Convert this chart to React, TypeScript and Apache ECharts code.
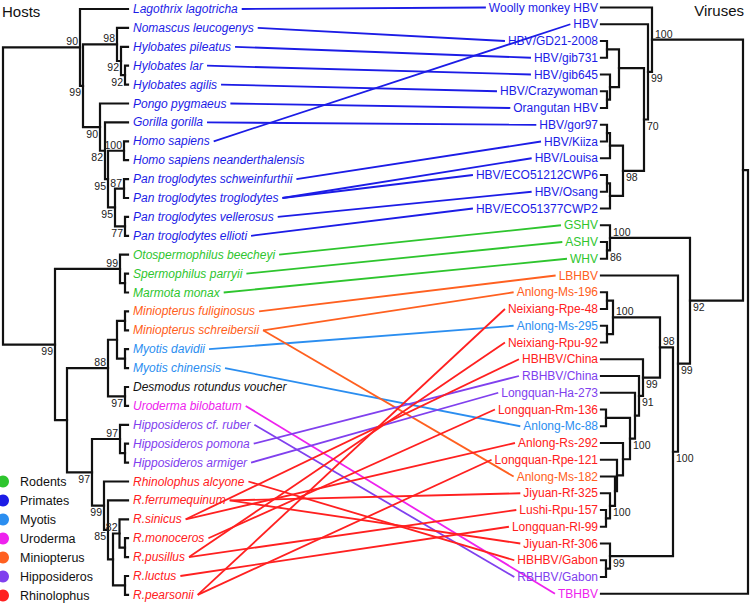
import React, { useEffect, useRef } from "react";
import * as echarts from "echarts";

// ---------- DATA ----------
// Host phylogeny (Newick: support values on internal nodes, branch lengths after ':')
const hostTree =
  "((Lagothrix lagotricha,((Nomascus leucogenys,(Hylobates pileatus,(Hylobates lar,Hylobates agilis)92:4)92:4)98:34,(Pongo pygmaeus,(Gorilla gorilla,((Homo sapiens,Homo sapiens neanderthalensis)100:16,((Pan troglodytes schweinfurthii,Pan troglodytes troglodytes)87:9,(Pan troglodytes vellerosus,Pan troglodytes ellioti)77:10)95:7)95:3)82:5)90:17)99:3)90:77,((Otospermophilus beecheyi,(Spermophilus parryii,Marmota monax):5)99:65,((((Miniopterus fuliginosus,Miniopterus schreibersii):8,(Myotis davidii,Myotis chinensis):8):9,(Desmodus rotundus voucher,Uroderma bilobatum)97:17)88:41,((Hipposideros cf. ruber,(Hipposideros pomona,Hipposideros armiger):5)97:28,(Rhinolophus alcyone,(R.ferrumequinum,((R.sinicus,(R.monoceros,R.pusillus):5.5)82:6.5,(R.luctus,R.pearsonii):12):5)85:4)99:12)97:25):12)99:52);";

// Virus phylogeny
const virusTree =
  "(((Woolly monkey HBV,(HBV,(((HBV/GD21-2008,HBV/gib731):12,(HBV/gib645,(HBV/Crazywoman,Orangutan HBV):3):9):25,(((HBV/gor97,HBV/Kiiza):3,HBV/Louisa):13,((HBV/ECO51212CWP6,HBV/Osang):3,HBV/ECO51377CWP2):13)98:21)70:4)99:4)100:91,((GSHV,(ASHV,WHV)86:3)100:80,(LBHBV,((((Anlong-Ms-196,Neixiang-Rpe-48):6,(Anlong-Ms-295,Neixiang-Rpu-92):6)100:47,(HBHBV/China,(RBHBV/China,(Longquan-Ha-273,((Longquan-Rm-136,Anlong-Mc-88):24,(Anlong-Rs-292,(Longquan-Rpe-121,(Anlong-Ms-182,(Jiyuan-Rf-325,(Lushi-Rpu-157,Longquan-Rl-99):4)100:5):2):6):7)100:5):4)91:4)99:17)98:13,(Jiyuan-Rf-306,(HBHBV/Gabon,RBHBV/Gabon):4)99:63)100:5)99:12)92:53):5,TBHBV);";

const groupNames = ["Rodents", "Primates", "Myotis", "Uroderma", "Miniopterus", "Hipposideros", "Rhinolophus"];

const rodentHosts = ["Otospermophilus beecheyi", "Spermophilus parryii", "Marmota monax"];
const primateHosts = [
  "Lagothrix lagotricha", "Nomascus leucogenys", "Hylobates pileatus", "Hylobates lar", "Hylobates agilis",
  "Pongo pygmaeus", "Gorilla gorilla", "Homo sapiens", "Homo sapiens neanderthalensis",
  "Pan troglodytes schweinfurthii", "Pan troglodytes troglodytes", "Pan troglodytes vellerosus", "Pan troglodytes ellioti",
];
const myotisHosts = ["Myotis davidii", "Myotis chinensis"];
const urodermaHosts = ["Uroderma bilobatum"];
const miniopterusHosts = ["Miniopterus fuliginosus", "Miniopterus schreibersii"];
const hipposiderosHosts = ["Hipposideros cf. ruber", "Hipposideros pomona", "Hipposideros armiger"];
const rhinolophusHosts = ["Rhinolophus alcyone", "R.ferrumequinum", "R.sinicus", "R.monoceros", "R.pusillus", "R.luctus", "R.pearsonii"];

// host -> virus associations
const hostVirusLinks: [string, string][] = [
  ["Lagothrix lagotricha", "Woolly monkey HBV"],
  ["Nomascus leucogenys", "HBV/GD21-2008"],
  ["Hylobates pileatus", "HBV/gib731"],
  ["Hylobates lar", "HBV/gib645"],
  ["Hylobates agilis", "HBV/Crazywoman"],
  ["Pongo pygmaeus", "Orangutan HBV"],
  ["Gorilla gorilla", "HBV/gor97"],
  ["Homo sapiens", "HBV"],
  ["Pan troglodytes schweinfurthii", "HBV/Kiiza"],
  ["Pan troglodytes troglodytes", "HBV/Louisa"],
  ["Pan troglodytes troglodytes", "HBV/ECO51212CWP6"],
  ["Pan troglodytes vellerosus", "HBV/Osang"],
  ["Pan troglodytes ellioti", "HBV/ECO51377CWP2"],
  ["Otospermophilus beecheyi", "GSHV"],
  ["Spermophilus parryii", "ASHV"],
  ["Marmota monax", "WHV"],
  ["Miniopterus fuliginosus", "LBHBV"],
  ["Miniopterus schreibersii", "Anlong-Ms-196"],
  ["Miniopterus schreibersii", "Anlong-Ms-182"],
  ["Myotis davidii", "Anlong-Ms-295"],
  ["Myotis chinensis", "Anlong-Mc-88"],
  ["Uroderma bilobatum", "TBHBV"],
  ["Hipposideros cf. ruber", "RBHBV/Gabon"],
  ["Hipposideros pomona", "RBHBV/China"],
  ["Hipposideros armiger", "Longquan-Ha-273"],
  ["Rhinolophus alcyone", "HBHBV/Gabon"],
  ["R.ferrumequinum", "Jiyuan-Rf-325"],
  ["R.ferrumequinum", "Jiyuan-Rf-306"],
  ["R.sinicus", "HBHBV/China"],
  ["R.sinicus", "Anlong-Rs-292"],
  ["R.monoceros", "Longquan-Rm-136"],
  ["R.pusillus", "Neixiang-Rpu-92"],
  ["R.pusillus", "Lushi-Rpu-157"],
  ["R.luctus", "Longquan-Rl-99"],
  ["R.pearsonii", "Neixiang-Rpe-48"],
  ["R.pearsonii", "Longquan-Rpe-121"],
];

// ---------- STYLE ----------
const groupColors = ["#2ec52e", "#1c1ce6", "#2b8ef0", "#ee22ee", "#ff6020", "#8040ee", "#ff2020"];
const FONT = '"Liberation Sans", Arial, Helvetica, sans-serif';
const TREE_COLOR = "#111111";

// ---------- TREE HELPERS ----------
type TNode = { name: string; support: string; len: number; children: TNode[]; x: number; y: number };

function parseNewick(s: string): TNode {
  let i = 0;
  function readNode(): TNode {
    const n: TNode = { name: "", support: "", len: 0, children: [], x: 0, y: 0 };
    if (s[i] === "(") {
      i++;
      n.children.push(readNode());
      while (s[i] === ",") {
        i++;
        n.children.push(readNode());
      }
      i++; // ')'
    }
    let lab = "";
    while (i < s.length && !",():;".includes(s[i])) lab += s[i++];
    if (s[i] === ":") {
      i++;
      let num = "";
      while (i < s.length && !",();".includes(s[i])) num += s[i++];
      n.len = parseFloat(num) || 0;
    }
    if (n.children.length) n.support = lab.trim();
    else n.name = lab.trim();
    return n;
  }
  return readNode();
}

function layoutTree(root: TNode, rootX: number, dir: number, tipX: number, y0: number, dy: number): TNode[] {
  const leaves: TNode[] = [];
  let k = 0;
  function walk(n: TNode, px: number) {
    if (!n.children.length) {
      n.x = tipX;
      n.y = y0 + k * dy;
      k++;
      leaves.push(n);
      return;
    }
    n.x = px + dir * n.len;
    n.children.forEach((c) => walk(c, n.x));
    n.y = (n.children[0].y + n.children[n.children.length - 1].y) / 2;
  }
  root.len = 0;
  walk(root, rootX);
  return leaves;
}

type TextItem = {
  text: string; x: number; y: number; color: string; size: number;
  italic?: boolean; align: "left" | "right";
};

function collectBranches(root: TNode, dir: number, segs: any[], texts: TextItem[]) {
  function walk(n: TNode, pos: "root" | "first" | "last") {
    if (!n.children.length) return;
    const f = n.children[0];
    const l = n.children[n.children.length - 1];
    segs.push({ coords: [[f.x, f.y], [n.x, f.y], [n.x, l.y], [l.x, l.y]] });
    for (let j = 1; j < n.children.length - 1; j++) {
      const c = n.children[j];
      segs.push({ coords: [[n.x, c.y], [c.x, c.y]] });
    }
    if (n.support) {
      texts.push({
        text: n.support,
        x: dir > 0 ? n.x - 2 : n.x + 3,
        y: n.y + (pos === "first" ? -6 : 6.5),
        color: "#222222",
        size: 10.5,
        align: dir > 0 ? "right" : "left",
      });
    }
    n.children.forEach((c, idx) => walk(c, idx === 0 ? "first" : "last"));
  }
  walk(root, "root");
}

function buildOption() {
  const ctx = document.createElement("canvas").getContext("2d")!;
  const measure = (t: string, italic: boolean) => {
    ctx.font = `${italic ? "italic " : ""}12px ${FONT}`;
    return ctx.measureText(t).width;
  };

  const groupMembers = [rodentHosts, primateHosts, myotisHosts, urodermaHosts, miniopterusHosts, hipposiderosHosts, rhinolophusHosts];
  const hostGroup = (name: string) => groupMembers.findIndex((g) => g.includes(name));

  const hRoot = parseNewick(hostTree);
  const vRoot = parseNewick(virusTree);
  const hLeaves = layoutTree(hRoot, 3, 1, 128, 9, 18.9);
  const vLeaves = layoutTree(vRoot, 748, -1, 601, 7.5, 16.75);

  const HOST_X = 133;
  const VIRUS_X = 598;

  const segs: any[] = [];
  const texts: TextItem[] = [];
  collectBranches(hRoot, 1, segs, texts);
  collectBranches(vRoot, -1, segs, texts);

  const hostPos: Record<string, { y: number; end: number }> = {};
  hLeaves.forEach((lf) => {
    const gi = hostGroup(lf.name);
    const color = gi < 0 ? "#111111" : groupColors[gi];
    texts.push({ text: lf.name, x: HOST_X, y: lf.y, color, size: 12, italic: true, align: "left" });
    hostPos[lf.name] = { y: lf.y, end: HOST_X + measure(lf.name, true) + 4 };
  });

  const virusPos: Record<string, { y: number; start: number }> = {};
  vLeaves.forEach((lf) => {
    const link = hostVirusLinks.find((l) => l[1] === lf.name);
    const gi = link ? hostGroup(link[0]) : -1;
    const color = gi < 0 ? "#111111" : groupColors[gi];
    texts.push({ text: lf.name, x: VIRUS_X, y: lf.y, color, size: 12, align: "right" });
    virusPos[lf.name] = { y: lf.y, start: VIRUS_X - measure(lf.name, false) - 3 };
  });

  const linkSeries = groupNames.map((g, gi) => ({
    type: "lines",
    name: g,
    coordinateSystem: "cartesian2d",
    silent: true,
    z: 2,
    lineStyle: { color: groupColors[gi], width: 1.8, opacity: 1 },
    itemStyle: { color: groupColors[gi] },
    data: hostVirusLinks
      .filter((l) => hostGroup(l[0]) === gi)
      .map((l) => ({
        coords: [
          [hostPos[l[0]].end, hostPos[l[0]].y],
          [virusPos[l[1]].start, virusPos[l[1]].y],
        ],
      })),
  }));

  return {
    animation: false,
    backgroundColor: "#ffffff",
    title: [
      { text: "Hosts", left: 2, top: 4, padding: 0, textStyle: { fontSize: 15, fontWeight: "normal", color: "#111", fontFamily: FONT } },
      { text: "Viruses", right: 6, top: 3, padding: 0, textStyle: { fontSize: 15, fontWeight: "normal", color: "#111", fontFamily: FONT } },
    ],
    legend: {
      orient: "vertical",
      left: -3,
      top: 475,
      height: 140,
      padding: 0,
      itemWidth: 20,
      itemHeight: 12,
      itemGap: 6,
      icon: "circle",
      selectedMode: false,
      textStyle: { fontSize: 12.5, color: "#111", fontFamily: FONT, padding: [0, 0, 0, 2] },
      data: groupNames.map((g, i) => ({ name: g, itemStyle: { color: groupColors[i], borderWidth: 0 } })),
    },
    grid: { left: 0, right: 0, top: 0, bottom: 0 },
    xAxis: { type: "value", min: 0, max: 750, show: false },
    yAxis: { type: "value", min: 0, max: 603, inverse: true, show: false },
    series: [
      {
        type: "lines",
        name: "trees",
        coordinateSystem: "cartesian2d",
        polyline: true,
        silent: true,
        z: 3,
        lineStyle: { color: TREE_COLOR, width: 2.2, opacity: 1, cap: "square", join: "miter" },
        data: segs,
      },
      ...linkSeries,
      {
        type: "custom",
        name: "labels",
        coordinateSystem: "cartesian2d",
        silent: true,
        z: 5,
        data: texts.map((t) => [t.x, t.y]),
        renderItem: (params: any, api: any) => {
          const t = texts[params.dataIndex];
          const p = api.coord([api.value(0), api.value(1)]);
          return {
            type: "text",
            x: p[0],
            y: p[1],
            style: {
              text: t.text,
              fill: t.color,
              fontSize: t.size,
              fontFamily: FONT,
              fontStyle: t.italic ? "italic" : "normal",
              align: t.align,
              verticalAlign: "middle",
            },
          };
        },
      },
    ],
  };
}

export default function App() {
  const ref = useRef<HTMLDivElement>(null);
  useEffect(() => {
    document.body.style.margin = "0";
    const chart = echarts.init(ref.current!, undefined, { renderer: "svg" });
    chart.setOption(buildOption() as any);
    return () => chart.dispose();
  }, []);
  return <div ref={ref} style={{ width: 750, height: 603 }} />;
}
